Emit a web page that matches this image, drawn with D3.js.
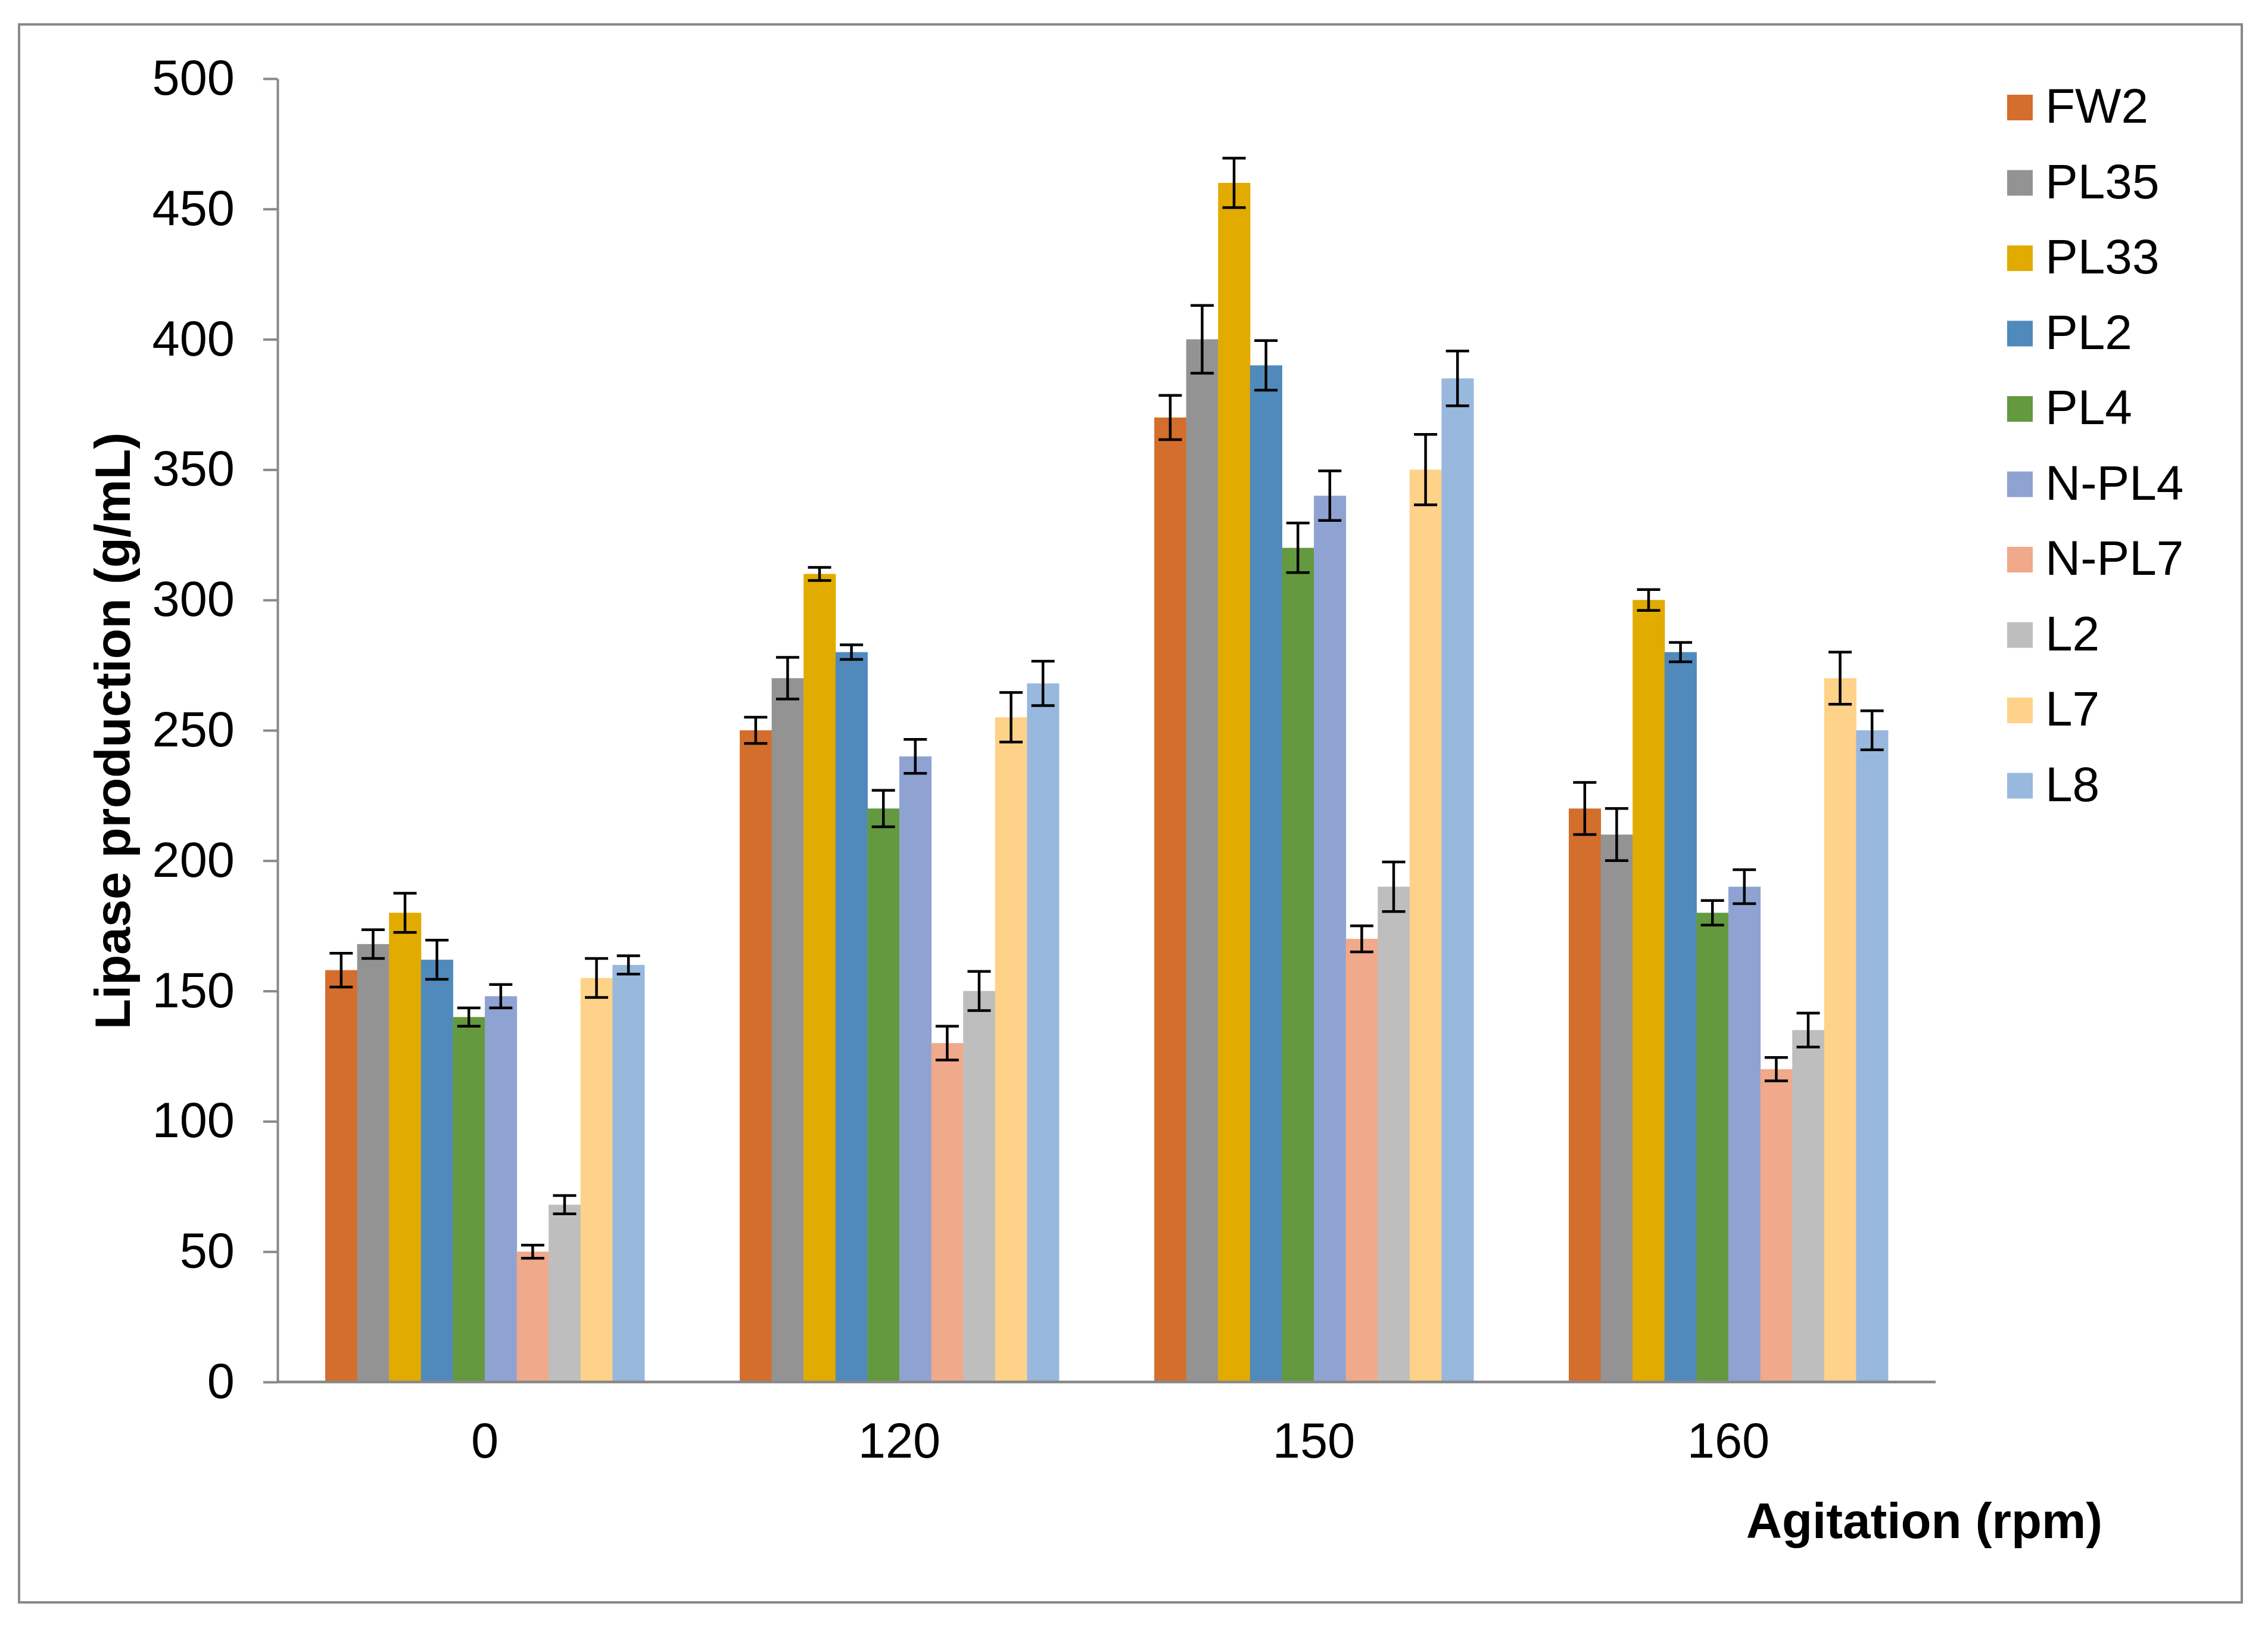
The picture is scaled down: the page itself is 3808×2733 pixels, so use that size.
<!DOCTYPE html>
<html>
<head>
<meta charset="utf-8">
<script src="https://cdn.jsdelivr.net/npm/d3@7"></script>
<style>
  html, body { margin: 0; padding: 0; background: #ffffff; }
  svg { display: block; }
  text { font-family: "Liberation Sans", Arial, sans-serif; fill: #000; }
</style>
</head>
<body>
<script>
// ---- Data ----
const categories = ["0", "120", "150", "160"];
const seriesNames = ["FW2", "PL35", "PL33", "PL2", "PL4", "N-PL4", "N-PL7", "L2", "L7", "L8"];
const seriesColors = ["#D36E2D", "#939393", "#E1AB00", "#508ABC", "#64993F", "#8FA3D3", "#F0A98A", "#BEBEBE", "#FED288", "#98B8DE"];

const valFW2  = [158, 250, 370, 220];
const valPL35 = [168, 270, 400, 210];
const valPL33 = [180, 310, 460, 300];
const valPL2  = [162, 280, 390, 280];
const valPL4  = [140, 220, 320, 180];
const valNPL4 = [148, 240, 340, 190];
const valNPL7 = [50, 130, 170, 120];
const valL2   = [68, 150, 190, 135];
const valL7   = [155, 255, 350, 270];
const valL8   = [160, 268, 385, 250];

const errFW2  = [6.5, 5, 8.5, 10];
const errPL35 = [5.5, 8, 13, 10];
const errPL33 = [7.5, 2.5, 9.5, 4];
const errPL2  = [7.5, 2.8, 9.5, 3.7];
const errPL4  = [3.5, 7, 9.5, 4.7];
const errNPL4 = [4.5, 6.5, 9.5, 6.5];
const errNPL7 = [2.5, 6.5, 5, 4.5];
const errL2   = [3.5, 7.5, 9.5, 6.5];
const errL7   = [7.5, 9.5, 13.5, 10];
const errL8   = [3.5, 8.5, 10.5, 7.5];

const yTicks = [0, 50, 100, 150, 200, 250, 300, 350, 400, 450, 500];
const yTitle = "Lipase production (g/mL)";
const xTitle = "Agitation (rpm)";

const allVals = [valFW2, valPL35, valPL33, valPL2, valPL4, valNPL4, valNPL7, valL2, valL7, valL8];
const allErrs = [errFW2, errPL35, errPL33, errPL2, errPL4, errNPL4, errNPL7, errL2, errL7, errL8];

// ---- Layout ----
const W = 3808, H = 2733;
const axisColor = "#898989";
const plotLeft = 466, plotRight = 3250, plotTop = 132, plotBottom = 2320;
const FONT = '"Liberation Sans", Arial, sans-serif';

const svg = d3.select("body").append("svg")
  .attr("width", W).attr("height", H)
  .attr("viewBox", `0 0 ${W} ${H}`);

svg.append("rect").attr("x", 0).attr("y", 0).attr("width", W).attr("height", H).attr("fill", "#fff");

// outer border
svg.append("rect")
  .attr("x", 32).attr("y", 41).attr("width", 3732).attr("height", 2649)
  .attr("fill", "none").attr("stroke", axisColor).attr("stroke-width", 4);

const x0 = d3.scaleBand().domain(categories).range([plotLeft, plotRight])
  .paddingInner(0.23).paddingOuter(0.115);
const x1 = d3.scaleBand().domain(seriesNames).range([0, x0.bandwidth()]).padding(0);
const y = d3.scaleLinear().domain([0, 500]).range([plotBottom, plotTop]);
const color = d3.scaleOrdinal().domain(seriesNames).range(seriesColors);

// data table
const rows = [];
categories.forEach((c, ci) => {
  seriesNames.forEach((s, si) => {
    rows.push({ cat: c, series: s, value: allVals[si][ci], err: allErrs[si][ci] });
  });
});

// bars
svg.append("g").selectAll("rect").data(rows).join("rect")
  .attr("x", d => x0(d.cat) + x1(d.series))
  .attr("y", d => y(d.value))
  .attr("width", x1.bandwidth() + 0.5)
  .attr("height", d => y(0) - y(d.value))
  .attr("fill", d => color(d.series));

// error bars
const eg = svg.append("g").attr("stroke", "#000").attr("stroke-width", 4.5);
const capHalf = 19.5;
rows.forEach(d => {
  const cx = x0(d.cat) + x1(d.series) + x1.bandwidth() / 2;
  const yt = y(d.value + d.err), yb = y(d.value - d.err);
  eg.append("line").attr("x1", cx).attr("x2", cx).attr("y1", yt).attr("y2", yb);
  eg.append("line").attr("x1", cx - capHalf).attr("x2", cx + capHalf).attr("y1", yt).attr("y2", yt);
  eg.append("line").attr("x1", cx - capHalf).attr("x2", cx + capHalf).attr("y1", yb).attr("y2", yb);
});

// y axis
const yAxis = svg.append("g").attr("transform", `translate(${plotLeft},0)`)
  .call(d3.axisLeft(y).tickValues(yTicks).tickSize(24).tickSizeOuter(0).tickPadding(48));
yAxis.selectAll("path,line").attr("stroke", axisColor).attr("stroke-width", 4);
yAxis.selectAll("text").attr("font-size", 83).attr("font-family", FONT).attr("fill", "#000");

// x axis
const xAxis = svg.append("g").attr("transform", `translate(0,${plotBottom})`)
  .call(d3.axisBottom(x0).tickSize(0).tickSizeOuter(0));
xAxis.select("path").attr("stroke", axisColor).attr("stroke-width", 4.5)
  .attr("d", `M${plotLeft},0H${plotRight}`);
xAxis.selectAll("text").attr("font-size", 83).attr("font-family", FONT)
  .attr("fill", "#000").attr("y", 127).attr("dy", 0);

// axis titles
svg.append("text")
  .attr("transform", `translate(218,1227) rotate(-90)`)
  .attr("text-anchor", "middle")
  .attr("font-size", 83.5).attr("font-weight", "bold")
  .text(yTitle);

svg.append("text")
  .attr("x", 3530).attr("y", 2582)
  .attr("text-anchor", "end")
  .attr("font-size", 83.5).attr("font-weight", "bold")
  .text(xTitle);

// legend
const lg = svg.append("g");
seriesNames.forEach((s, i) => {
  const cy = 180.5 + i * 126.5;
  lg.append("rect").attr("x", 3370).attr("y", cy - 21.5).attr("width", 43).attr("height", 43).attr("fill", color(s));
  lg.append("text").attr("x", 3434).attr("y", cy + 25.5).attr("font-size", 82).text(s);
});
</script>
</body>
</html>
